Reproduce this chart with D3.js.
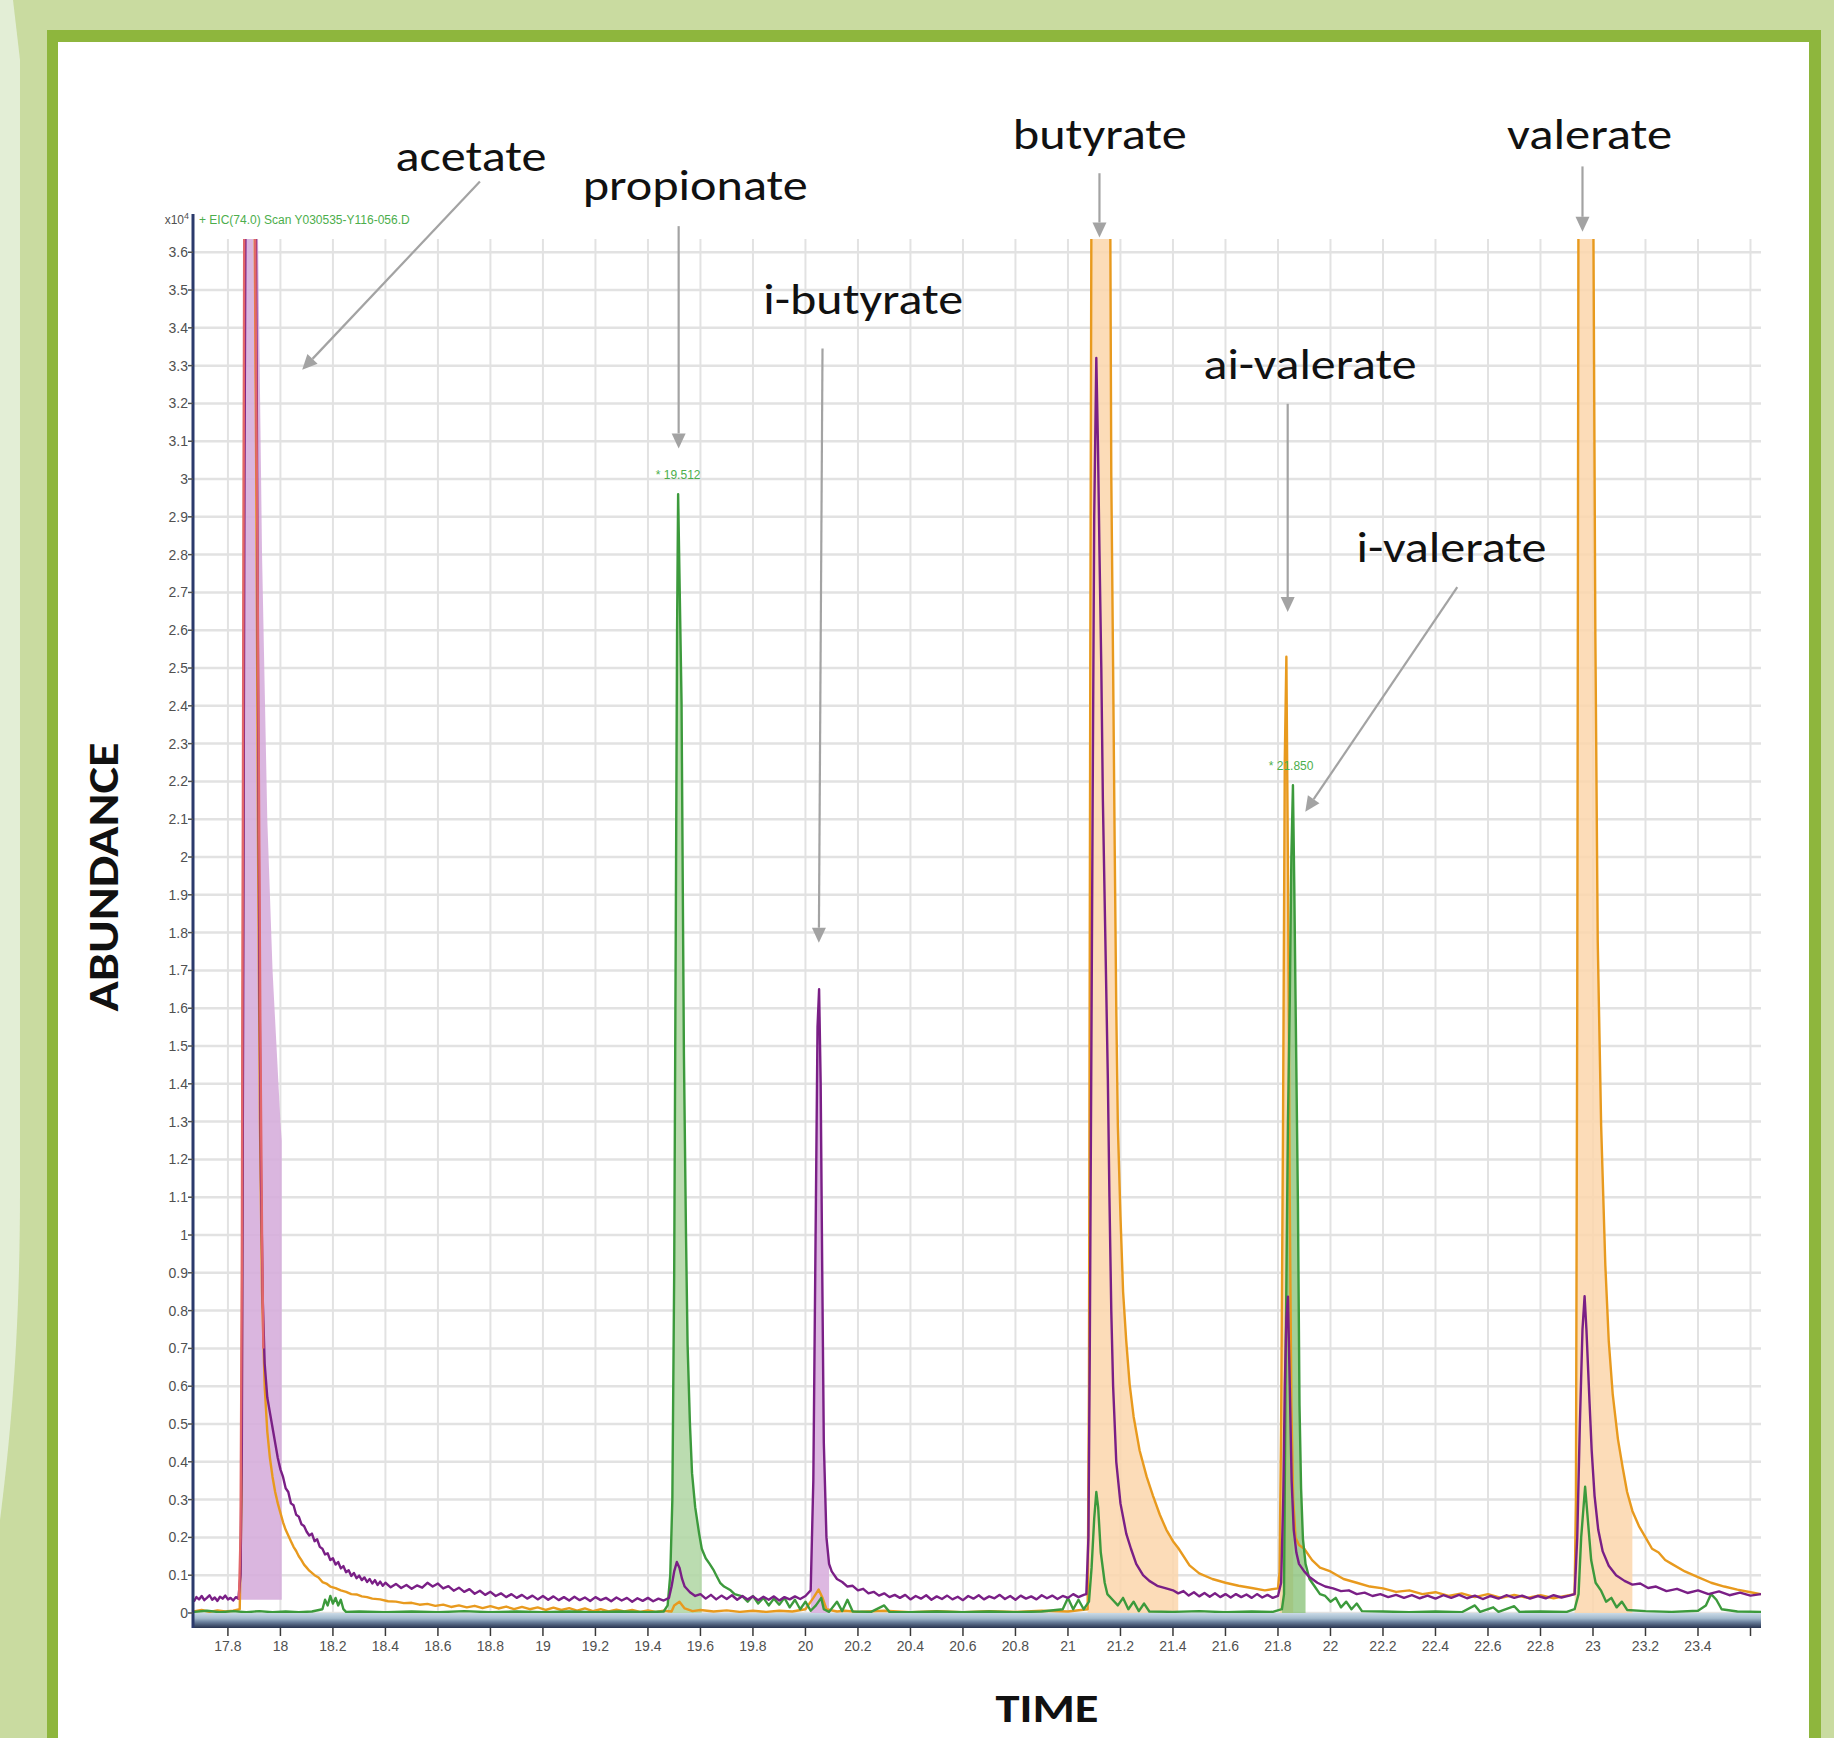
<!DOCTYPE html>
<html>
<head>
<meta charset="utf-8">
<title>SCFA chromatogram</title>
<script src="https://cdn.jsdelivr.net/npm/d3@7"></script>
<style>
  html, body { margin: 0; padding: 0; background: #c9dba0; }
  svg { display: block; }
</style>
</head>
<body>
<svg id="chart" width="1834" height="1738"></svg>
<script>
/* GC-MS extracted ion chromatogram, short chain fatty acids.
   Abundance in x10^4 counts, time in minutes. */

const yTicks = [0, 0.1, 0.2, 0.3, 0.4, 0.5, 0.6, 0.7, 0.8, 0.9, 1, 1.1, 1.2, 1.3, 1.4, 1.5, 1.6, 1.7, 1.8,
  1.9, 2, 2.1, 2.2, 2.3, 2.4, 2.5, 2.6, 2.7, 2.8, 2.9, 3, 3.1, 3.2, 3.3, 3.4, 3.5, 3.6];
const xTicks = [17.8, 18, 18.2, 18.4, 18.6, 18.8, 19, 19.2, 19.4, 19.6, 19.8, 20, 20.2, 20.4, 20.6, 20.8,
  21, 21.2, 21.4, 21.6, 21.8, 22, 22.2, 22.4, 22.6, 22.8, 23, 23.2, 23.4, 23.6];
const xTickLabels = ["17.8", "18", "18.2", "18.4", "18.6", "18.8", "19", "19.2", "19.4", "19.6", "19.8", "20",
  "20.2", "20.4", "20.6", "20.8", "21", "21.2", "21.4", "21.6", "21.8", "22", "22.2", "22.4", "22.6", "22.8",
  "23", "23.2", "23.4", ""];

// [time, abundance]
const purple = [
  [17.67,0.030],[17.68,0.042],[17.69,0.036],[17.70,0.045],[17.71,0.034],[17.72,0.040],[17.73,0.047],[17.74,0.035],
  [17.75,0.041],[17.76,0.032],[17.77,0.043],[17.78,0.038],[17.79,0.046],[17.80,0.036],[17.81,0.040],[17.82,0.033],
  [17.83,0.042],[17.84,0.038],[17.848,0.10],[17.853,0.45],[17.858,1.6],[17.863,3.0],[17.868,3.9],[17.905,3.9],
  [17.91,3.2],[17.915,2.4],[17.92,1.7],[17.926,1.15],[17.933,0.82],[17.94,0.66],[17.95,0.57],[17.96,0.53],
  [17.97,0.49],[17.98,0.45],[17.99,0.41],[18.00,0.38],[18.01,0.36],[18.02,0.33],[18.03,0.32],[18.04,0.29],
  [18.05,0.285],[18.06,0.26],[18.07,0.255],[18.08,0.235],[18.09,0.23],[18.10,0.215],[18.11,0.205],[18.12,0.21],
  [18.13,0.19],[18.14,0.195],[18.15,0.175],[18.16,0.17],[18.17,0.155],[18.18,0.158],[18.19,0.14],[18.20,0.145],
  [18.21,0.128],[18.22,0.135],[18.23,0.118],[18.24,0.124],[18.25,0.108],[18.26,0.113],[18.27,0.098],[18.28,0.106],
  [18.29,0.092],[18.30,0.099],[18.31,0.087],[18.32,0.094],[18.33,0.082],[18.34,0.09],[18.35,0.078],[18.36,0.087],
  [18.37,0.074],[18.38,0.083],[18.39,0.072],[18.40,0.08],[18.42,0.068],[18.44,0.077],[18.46,0.066],[18.48,0.074],
  [18.50,0.064],[18.52,0.073],[18.54,0.067],[18.56,0.08],[18.58,0.07],[18.60,0.078],[18.62,0.065],[18.64,0.071],
  [18.66,0.059],[18.68,0.067],[18.70,0.056],[18.72,0.063],[18.74,0.051],[18.76,0.059],[18.78,0.048],[18.80,0.056],
  [18.82,0.045],[18.84,0.052],[18.86,0.042],[18.88,0.05],[18.90,0.04],[18.92,0.048],[18.94,0.038],[18.96,0.046],
  [18.98,0.036],[19.00,0.045],[19.02,0.035],[19.04,0.044],[19.06,0.034],[19.08,0.042],[19.10,0.033],[19.12,0.043],
  [19.14,0.034],[19.16,0.041],[19.18,0.032],[19.20,0.042],[19.22,0.034],[19.24,0.04],[19.26,0.031],[19.28,0.041],
  [19.30,0.033],[19.32,0.04],[19.34,0.03],[19.36,0.039],[19.38,0.032],[19.40,0.04],[19.42,0.031],[19.44,0.038],
  [19.46,0.033],[19.48,0.04],[19.49,0.07],[19.50,0.11],[19.51,0.135],[19.52,0.12],[19.53,0.09],[19.54,0.07],
  [19.56,0.055],[19.58,0.045],[19.60,0.05],[19.62,0.038],[19.64,0.048],[19.66,0.036],[19.68,0.046],[19.70,0.037],
  [19.72,0.047],[19.74,0.035],[19.76,0.045],[19.78,0.036],[19.80,0.044],[19.82,0.034],[19.84,0.043],[19.86,0.035],
  [19.88,0.044],[19.90,0.033],[19.92,0.042],[19.94,0.036],[19.96,0.044],[19.98,0.037],[20.00,0.045],[20.02,0.06],
  [20.03,0.35],[20.04,1.1],[20.046,1.55],[20.052,1.65],[20.058,1.4],[20.064,0.9],[20.07,0.45],[20.08,0.2],
  [20.09,0.13],[20.10,0.11],[20.12,0.09],[20.14,0.082],[20.16,0.07],[20.18,0.072],[20.20,0.06],[20.22,0.064],
  [20.24,0.052],[20.26,0.056],[20.28,0.046],[20.30,0.052],[20.32,0.042],[20.34,0.048],[20.36,0.040],[20.38,0.048],
  [20.40,0.036],[20.42,0.045],[20.44,0.038],[20.46,0.047],[20.48,0.035],[20.50,0.044],[20.52,0.037],[20.54,0.046],
  [20.56,0.036],[20.58,0.043],[20.60,0.034],[20.62,0.045],[20.64,0.038],[20.66,0.047],[20.68,0.036],[20.70,0.044],
  [20.72,0.039],[20.74,0.048],[20.76,0.037],[20.78,0.045],[20.80,0.035],[20.82,0.046],[20.84,0.038],[20.86,0.044],
  [20.88,0.036],[20.90,0.047],[20.92,0.039],[20.94,0.046],[20.96,0.037],[20.98,0.045],[21.00,0.04],[21.02,0.05],
  [21.04,0.042],[21.06,0.048],[21.07,0.05],[21.078,0.2],[21.083,0.68],[21.09,1.6],[21.095,2.27],[21.10,2.9],
  [21.108,3.32],[21.114,3.1],[21.12,2.81],[21.127,2.5],[21.133,2.15],[21.142,1.8],[21.152,1.41],[21.158,1.1],
  [21.165,0.80],[21.172,0.6],[21.184,0.4],[21.2,0.29],[21.222,0.21],[21.24,0.17],[21.26,0.13],[21.286,0.1],
  [21.31,0.085],[21.34,0.072],[21.374,0.065],[21.40,0.06],[21.42,0.052],[21.44,0.058],[21.46,0.046],[21.48,0.055],
  [21.50,0.044],[21.52,0.053],[21.54,0.043],[21.56,0.052],[21.58,0.042],[21.60,0.05],[21.62,0.041],[21.64,0.05],
  [21.66,0.042],[21.68,0.049],[21.70,0.04],[21.72,0.05],[21.74,0.041],[21.76,0.048],[21.78,0.04],[21.80,0.045],
  [21.812,0.08],[21.82,0.3],[21.826,0.6],[21.832,0.78],[21.838,0.837],[21.845,0.6],[21.852,0.35],[21.86,0.22],
  [21.87,0.16],[21.88,0.13],[21.90,0.11],[21.92,0.095],[21.95,0.08],[21.98,0.07],[22.01,0.065],[22.04,0.058],
  [22.07,0.06],[22.10,0.05],[22.13,0.054],[22.16,0.045],[22.19,0.05],[22.22,0.042],[22.25,0.048],[22.28,0.04],
  [22.31,0.047],[22.34,0.039],[22.37,0.046],[22.40,0.038],[22.43,0.047],[22.46,0.04],[22.49,0.048],[22.52,0.039],
  [22.55,0.046],[22.58,0.037],[22.61,0.045],[22.64,0.038],[22.67,0.047],[22.70,0.04],[22.73,0.046],[22.76,0.038],
  [22.79,0.045],[22.82,0.039],[22.85,0.047],[22.88,0.041],[22.91,0.046],[22.93,0.05],[22.94,0.2],[22.95,0.5],
  [22.96,0.75],[22.968,0.838],[22.975,0.75],[22.987,0.555],[22.995,0.43],[23.006,0.31],[23.02,0.22],[23.037,0.163],
  [23.06,0.125],[23.088,0.1],[23.12,0.085],[23.15,0.075],[23.18,0.078],[23.21,0.066],[23.24,0.07],[23.28,0.058],
  [23.32,0.064],[23.36,0.053],[23.40,0.06],[23.44,0.05],[23.48,0.057],[23.52,0.047],[23.56,0.054],[23.60,0.046],
  [23.64,0.05]
];

const orange = [
  [17.67,0.004],[17.70,0.008],[17.73,0.003],[17.76,0.007],[17.79,0.004],[17.82,0.006],[17.845,0.01],[17.852,0.3],
  [17.858,2.0],[17.864,3.9],[17.90,3.9],[17.908,3.0],[17.915,2.0],[17.922,1.3],[17.93,0.85],[17.94,0.6],
  [17.95,0.48],[17.96,0.41],[17.97,0.36],[17.98,0.32],[17.99,0.29],[18.0,0.265],[18.01,0.24],[18.02,0.22],
  [18.03,0.205],[18.04,0.19],[18.05,0.175],[18.06,0.164],[18.07,0.15],[18.08,0.14],[18.09,0.128],[18.10,0.12],
  [18.11,0.112],[18.12,0.106],[18.13,0.1],[18.145,0.094],[18.16,0.082],[18.175,0.078],[18.19,0.07],[18.21,0.066],
  [18.23,0.06],[18.25,0.056],[18.27,0.05],[18.29,0.049],[18.31,0.044],[18.33,0.042],[18.35,0.038],[18.38,0.036],
  [18.41,0.031],[18.44,0.03],[18.47,0.026],[18.50,0.027],[18.53,0.022],[18.56,0.024],[18.59,0.019],[18.62,0.022],
  [18.65,0.016],[18.68,0.02],[18.71,0.015],[18.74,0.019],[18.77,0.013],[18.80,0.018],[18.83,0.012],[18.86,0.017],
  [18.89,0.01],[18.92,0.016],[18.95,0.01],[18.98,0.015],[19.01,0.008],[19.04,0.014],[19.07,0.008],[19.10,0.013],
  [19.13,0.006],[19.16,0.012],[19.19,0.005],[19.22,0.01],[19.25,0.004],[19.28,0.009],[19.31,0.004],[19.34,0.008],
  [19.37,0.003],[19.40,0.007],[19.43,0.003],[19.46,0.006],[19.49,0.004],[19.50,0.02],[19.52,0.03],[19.54,0.012],
  [19.57,0.005],[19.60,0.008],[19.65,0.004],[19.70,0.007],[19.75,0.003],[19.80,0.006],[19.85,0.003],[19.90,0.006],
  [19.95,0.004],[20.0,0.01],[20.03,0.04],[20.05,0.062],[20.065,0.04],[20.08,0.01],[20.12,0.004],[20.15,0.006],
  [20.2,0.003],[20.3,0.006],[20.4,0.002],[20.5,0.005],[20.6,0.002],[20.7,0.005],[20.8,0.003],[20.9,0.006],
  [21.0,0.004],[21.075,0.01],[21.08,0.6],[21.085,2.5],[21.09,3.9],[21.16,3.9],[21.165,3.01],[21.172,2.5],
  [21.178,2.03],[21.184,1.6],[21.19,1.29],[21.2,1.05],[21.21,0.85],[21.222,0.72],[21.235,0.605],[21.25,0.52],
  [21.273,0.43],[21.3,0.36],[21.324,0.31],[21.35,0.26],[21.375,0.22],[21.4,0.19],[21.42,0.172],[21.463,0.126],
  [21.5,0.105],[21.55,0.09],[21.6,0.08],[21.65,0.072],[21.7,0.066],[21.75,0.06],[21.8,0.065],[21.806,0.108],
  [21.812,0.5],[21.819,1.26],[21.826,2.26],[21.832,2.53],[21.838,1.97],[21.845,1.085],[21.851,0.55],[21.858,0.3],
  [21.867,0.2],[21.88,0.18],[21.9,0.17],[21.93,0.14],[21.96,0.12],[22.0,0.11],[22.05,0.09],[22.1,0.08],
  [22.15,0.07],[22.2,0.065],[22.25,0.056],[22.3,0.06],[22.35,0.05],[22.4,0.055],[22.45,0.045],[22.5,0.052],
  [22.55,0.042],[22.6,0.05],[22.65,0.04],[22.7,0.048],[22.75,0.04],[22.8,0.047],[22.85,0.039],[22.9,0.046],
  [22.93,0.05],[22.935,0.3],[22.94,1.6],[22.945,3.9],[23.0,3.9],[23.009,2.59],[23.018,1.78],[23.031,1.29],
  [23.047,0.92],[23.06,0.72],[23.075,0.58],[23.095,0.46],[23.113,0.385],[23.13,0.32],[23.15,0.27],[23.175,0.23],
  [23.2,0.2],[23.225,0.17],[23.25,0.16],[23.275,0.14],[23.3,0.13],[23.35,0.11],[23.4,0.095],[23.45,0.08],
  [23.5,0.07],[23.55,0.062],[23.6,0.055],[23.64,0.05]
];

const green = [
  [17.67,0.003],[17.72,0.006],[17.77,0.002],[17.82,0.005],[17.87,0.002],[17.92,0.005],[17.97,0.002],[18.02,0.004],
  [18.07,0.002],[18.12,0.004],[18.16,0.01],[18.17,0.035],[18.18,0.02],[18.19,0.045],[18.20,0.025],[18.21,0.04],
  [18.22,0.02],[18.23,0.035],[18.24,0.01],[18.25,0.003],[18.3,0.004],[18.4,0.002],[18.5,0.004],[18.6,0.002],
  [18.7,0.005],[18.8,0.002],[18.9,0.004],[19.0,0.002],[19.1,0.004],[19.2,0.002],[19.3,0.004],[19.4,0.002],
  [19.46,0.004],[19.475,0.02],[19.485,0.1],[19.493,0.3],[19.5,0.9],[19.506,1.8],[19.511,2.6],[19.515,2.96],
  [19.52,2.75],[19.528,2.41],[19.537,1.48],[19.545,1.0],[19.551,0.71],[19.56,0.5],[19.568,0.37],[19.58,0.28],
  [19.595,0.21],[19.605,0.17],[19.62,0.145],[19.635,0.13],[19.649,0.115],[19.66,0.1],[19.675,0.08],[19.69,0.07],
  [19.715,0.06],[19.73,0.05],[19.76,0.044],[19.78,0.03],[19.80,0.045],[19.82,0.025],[19.84,0.04],[19.86,0.02],
  [19.88,0.038],[19.90,0.022],[19.92,0.04],[19.94,0.015],[19.96,0.035],[19.98,0.01],[20.0,0.03],[20.02,0.006],
  [20.04,0.02],[20.06,0.04],[20.07,0.01],[20.09,0.003],[20.12,0.03],[20.14,0.005],[20.16,0.035],[20.18,0.004],
  [20.25,0.003],[20.3,0.02],[20.32,0.003],[20.4,0.002],[20.5,0.004],[20.6,0.002],[20.7,0.004],[20.8,0.002],
  [20.9,0.004],[20.98,0.01],[21.0,0.04],[21.02,0.01],[21.04,0.035],[21.06,0.01],[21.08,0.03],[21.09,0.12],
  [21.1,0.25],[21.108,0.32],[21.115,0.28],[21.125,0.16],[21.14,0.08],[21.15,0.05],[21.17,0.035],[21.19,0.02],
  [21.21,0.04],[21.23,0.01],[21.25,0.03],[21.27,0.005],[21.29,0.025],[21.31,0.004],[21.4,0.003],[21.5,0.005],
  [21.6,0.002],[21.7,0.004],[21.78,0.003],[21.815,0.01],[21.823,0.05],[21.83,0.73],[21.838,1.3],[21.845,1.62],
  [21.851,2.0],[21.857,2.19],[21.862,1.93],[21.867,1.62],[21.876,1.085],[21.882,0.55],[21.888,0.33],[21.895,0.197],
  [21.905,0.13],[21.92,0.09],[21.94,0.07],[21.96,0.05],[21.98,0.045],[22.0,0.03],[22.02,0.04],[22.04,0.015],
  [22.06,0.03],[22.08,0.01],[22.1,0.025],[22.12,0.005],[22.2,0.004],[22.3,0.002],[22.4,0.004],[22.5,0.002],
  [22.55,0.02],[22.57,0.003],[22.62,0.015],[22.64,0.003],[22.7,0.018],[22.72,0.003],[22.8,0.004],[22.9,0.003],
  [22.93,0.01],[22.945,0.05],[22.955,0.2],[22.97,0.334],[22.98,0.25],[22.993,0.14],[23.01,0.08],[23.03,0.06],
  [23.05,0.03],[23.07,0.04],[23.09,0.015],[23.11,0.03],[23.13,0.008],[23.2,0.005],[23.3,0.003],[23.4,0.006],
  [23.43,0.02],[23.45,0.05],[23.47,0.035],[23.49,0.01],[23.55,0.004],[23.64,0.003]
];

const red = [
  [17.842,0.035],[17.848,0.2],[17.853,0.9],[17.858,2.4],[17.863,3.9],[17.902,3.9],[17.907,3.29],[17.912,2.85],
  [17.918,2.2],[17.924,1.5],[17.93,1.0],[17.935,0.7]
];

// upper edge of the integrated acetate area (runs off scale)
const acetateArea = [
  [17.845,0.035],[17.852,0.5],[17.86,3.9],[17.91,3.9],[17.93,2.8],[17.95,2.1],[17.97,1.7],[18.0,1.3],[18.005,1.25]
];

// integration windows: [name, trace, from, to, baseline]
const peakWindows = [
  ["acetate", "acetateArea", 17.845, 18.005, 0.035],
  ["propionate", "green", 19.475, 19.605, 0],
  ["i-butyrate", "purple", 20.02, 20.09, 0],
  ["butyrate", "orange", 21.075, 21.42, 0],
  ["ai-valerate", "orange", 21.806, 21.858, 0],
  ["i-valerate", "green", 21.815, 21.905, 0],
  ["valerate", "orange", 22.93, 23.15, 0]
];

const peakMarks = [["* 19.512", 19.515, 3.0], ["* 21.850", 21.85, 2.23]];

// annotation: text, label baseline centre, arrow tail, arrow tip (data coords)
const annotations = [
  ["acetate", [18.726, 3.815], [18.760, 3.787], [18.083, 3.289]],
  ["propionate", [19.580, 3.737], [19.517, 3.669], [19.517, 3.081]],
  ["i-butyrate", [20.220, 3.437], [20.065, 3.345], [20.051, 1.773]],
  ["butyrate", [21.121, 3.874], [21.120, 3.809], [21.120, 3.639]],
  ["valerate", [22.987, 3.874], [22.960, 3.827], [22.960, 3.654]],
  ["ai-valerate", [21.922, 3.264], [21.837, 3.199], [21.837, 2.648]],
  ["i-valerate", [22.461, 2.781], [22.483, 2.714], [21.904, 2.12]]
];
const labelWidths = { "acetate": 151, "propionate": 225, "i-butyrate": 200, "butyrate": 174,
  "valerate": 165, "ai-valerate": 213, "i-valerate": 190 };

const C = {
  page: "#c9dba0", strip: "#e3eed6", frame: "#8eb63d",
  purple: "#7a1f86", orange: "#e89a1e", green: "#3c9a3c", red: "#e2666a",
  grid: "#e2e2e2", axis: "#2b3a6c", tick: "#505050", arrow: "#a3a3a3",
  fill: { "acetate": "#d6aedb", "propionate": "#afd6a2", "i-butyrate": "#d9b0de", "butyrate": "#fbd6ab",
    "ai-valerate": "#f6cf9c", "i-valerate": "#86c074", "valerate": "#fbd6ab" },
  fillOpacity: { "acetate": 0.9, "propionate": 0.85, "i-butyrate": 0.9, "butyrate": 0.85,
    "ai-valerate": 0.8, "i-valerate": 0.75, "valerate": 0.85 }
};
const traces = { purple, orange, green, red, acetateArea };
const tickFont = "'Liberation Sans Narrow', 'Liberation Sans', sans-serif";
const labelFont = "Carlito, Lato, 'Open Sans', sans-serif";

const svg = d3.select("#chart");
const W = 1834, H = 1738;
const P = { left: 193, right: 1761, top: 239, bottom: 1613 };

// page decoration
svg.append("rect").attr("width", W).attr("height", H).attr("fill", C.page);
svg.append("path").attr("fill", C.strip)
  .attr("d", "M0,0 L13,0 L20,60 L20,1190 C20,1340 10,1440 0,1520 Z");
svg.append("rect").attr("x", 47).attr("y", 30).attr("width", 1774).attr("height", 1760).attr("fill", C.frame);
svg.append("rect").attr("x", 58).attr("y", 42).attr("width", 1751).attr("height", 1740).attr("fill", "#fff");

const x = d3.scaleLinear().domain([17.667, 23.64]).range([P.left, P.right]);
const y = d3.scaleLinear().domain([0, 3.635]).range([P.bottom, P.top]);

const defs = svg.append("defs");
defs.append("clipPath").attr("id", "plot")
  .append("rect").attr("x", P.left).attr("y", P.top).attr("width", P.right - P.left).attr("height", P.bottom - P.top);
const grad = defs.append("linearGradient").attr("id", "bar").attr("x1", 0).attr("x2", 0).attr("y1", 0).attr("y2", 1);
[["0%", "#cbdbe7"], ["35%", "#a3bacd"], ["60%", "#6a809d"], ["100%", "#27334f"]].forEach(([o, c]) =>
  grad.append("stop").attr("offset", o).attr("stop-color", c));

// grid
const gGrid = svg.append("g");
gGrid.selectAll("line.h").data(yTicks).join("line").attr("class", "h")
  .attr("x1", P.left).attr("x2", P.right).attr("y1", d => y(d)).attr("y2", d => y(d))
  .attr("stroke", C.grid).attr("stroke-width", 2.5);
gGrid.selectAll("line.v").data(xTicks).join("line").attr("class", "v")
  .attr("x1", d => x(d)).attr("x2", d => x(d)).attr("y1", P.top).attr("y2", P.bottom)
  .attr("stroke", C.grid).attr("stroke-width", 2);

const plot = svg.append("g").attr("clip-path", "url(#plot)");

// integrated peak areas
const area = d3.area().x(d => x(d[0])).y1(d => y(d[1]));
peakWindows.forEach(([name, trace, from, to, base]) => {
  const pts = traces[trace].filter(d => d[0] >= from && d[0] <= to);
  plot.append("path").datum(pts)
    .attr("d", area.y0(y(base)))
    .attr("fill", C.fill[name]).attr("fill-opacity", C.fillOpacity[name]);
});

// traces
const line = d3.line().x(d => x(d[0])).y(d => y(d[1]));
[["orange", orange], ["green", green], ["purple", purple], ["red", red]].forEach(([k, data]) => {
  plot.append("path").datum(data).attr("d", line)
    .attr("fill", "none").attr("stroke", C[k]).attr("stroke-width", 2.4).attr("stroke-linejoin", "round");
});

// x axis bar + ticks
svg.append("rect").attr("x", P.left).attr("y", P.bottom).attr("width", P.right - P.left).attr("height", 15)
  .attr("fill", "url(#bar)");
const gx = svg.append("g");
gx.selectAll("line").data(xTicks).join("line")
  .attr("x1", d => x(d)).attr("x2", d => x(d)).attr("y1", P.bottom + 15).attr("y2", P.bottom + 23)
  .attr("stroke", "#3a3a3a").attr("stroke-width", 1.5);
gx.selectAll("text").data(xTicks).join("text")
  .attr("x", d => x(d)).attr("y", P.bottom + 38)
  .attr("text-anchor", "middle").attr("font-family", tickFont)
  .attr("font-size", 14).attr("fill", C.tick)
  .text((d, i) => xTickLabels[i]);

// y axis
svg.append("line").attr("x1", P.left).attr("x2", P.left).attr("y1", 214).attr("y2", P.bottom + 15)
  .attr("stroke", C.axis).attr("stroke-width", 3);
const gy = svg.append("g");
gy.selectAll("line").data(yTicks).join("line")
  .attr("x1", P.left - 5).attr("x2", P.left).attr("y1", d => y(d)).attr("y2", d => y(d))
  .attr("stroke", C.tick).attr("stroke-width", 1.5);
gy.selectAll("text").data(yTicks).join("text")
  .attr("x", P.left - 5).attr("y", d => y(d)).attr("dy", "0.35em")
  .attr("text-anchor", "end").attr("font-family", tickFont)
  .attr("font-size", 14).attr("fill", C.tick)
  .text(d => String(d));

svg.append("text").attr("x", P.left - 4).attr("y", 224).attr("text-anchor", "end")
  .attr("font-family", tickFont).attr("font-size", 12)
  .attr("fill", C.tick).text("x10").append("tspan").attr("dy", -5).attr("font-size", 9).text("4");
svg.append("text").attr("x", P.left + 6).attr("y", 224)
  .attr("font-family", tickFont).attr("font-size", 12)
  .attr("fill", "#4cae4c").text("+ EIC(74.0) Scan Y030535-Y116-056.D");

// retention time marks
svg.selectAll("text.rt").data(peakMarks).join("text").attr("class", "rt")
  .attr("x", d => x(d[1])).attr("y", d => y(d[2]))
  .attr("text-anchor", "middle").attr("font-family", tickFont)
  .attr("font-size", 12).attr("fill", "#4cae4c").text(d => d[0]);

// annotations
const gA = svg.append("g");
annotations.forEach(([text, lab, tail, tip]) => {
  const x0 = x(tail[0]), y0 = y(tail[1]), x1 = x(tip[0]), y1 = y(tip[1]);
  const a = Math.atan2(y1 - y0, x1 - x0), L = 15, w = 7;
  const bx = x1 - L * Math.cos(a), by = y1 - L * Math.sin(a);
  gA.append("line").attr("x1", x0).attr("y1", y0).attr("x2", bx).attr("y2", by)
    .attr("stroke", C.arrow).attr("stroke-width", 2.2);
  gA.append("path")
    .attr("d", `M${x1},${y1} L${bx + w * Math.sin(a)},${by - w * Math.cos(a)} L${bx - w * Math.sin(a)},${by + w * Math.cos(a)} Z`)
    .attr("fill", C.arrow);
  gA.append("text").attr("x", x(lab[0])).attr("y", y(lab[1]))
    .attr("text-anchor", "middle").attr("font-family", labelFont)
    .attr("font-size", 44).attr("fill", "#111")
    .attr("textLength", labelWidths[text]).attr("lengthAdjust", "spacingAndGlyphs")
    .text(text);
});

// axis titles
svg.append("text").attr("x", 1047).attr("y", 1722).attr("text-anchor", "middle")
  .attr("font-family", labelFont).attr("font-weight", 700)
  .attr("font-size", 41).attr("textLength", 103).attr("lengthAdjust", "spacingAndGlyphs").attr("fill", "#111")
  .text("TIME");
svg.append("text").attr("transform", "translate(118,877) rotate(-90)").attr("text-anchor", "middle")
  .attr("font-family", labelFont).attr("font-weight", 700)
  .attr("font-size", 42).attr("textLength", 269).attr("lengthAdjust", "spacingAndGlyphs").attr("fill", "#111")
  .text("ABUNDANCE");
</script>
</body>
</html>
